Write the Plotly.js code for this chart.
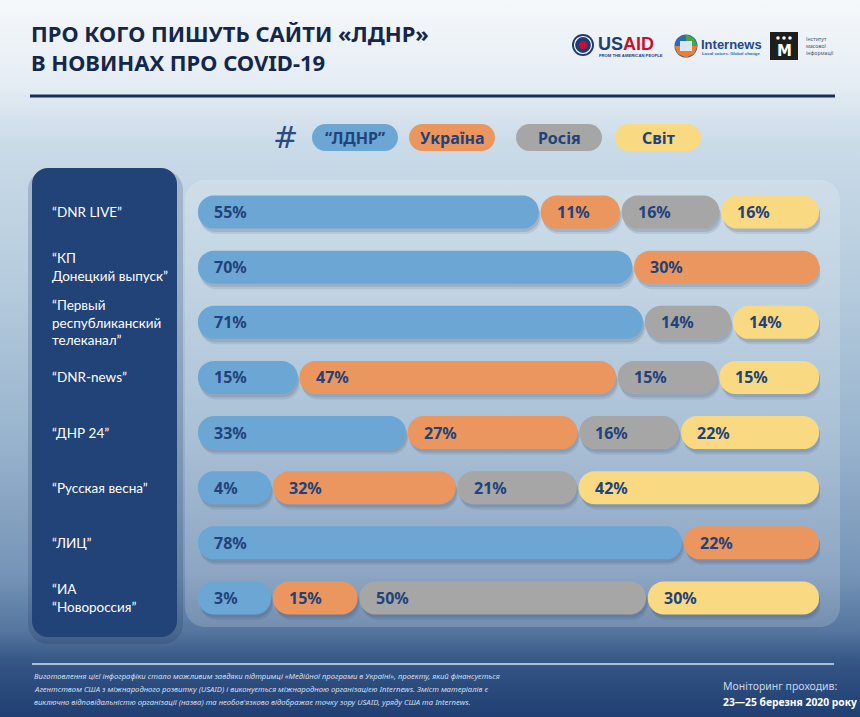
<!DOCTYPE html>
<html>
<head>
<meta charset="utf-8">
<script src="https://cdn.plot.ly/plotly-3.0.1.min.js"></script>
<style>
html,body{margin:0;padding:0;}
#wrap{width:860px;height:717px;background:linear-gradient(180deg,#f5f8fb 0%,#e4ecf3 12%,#cadbe8 20%,#b5cbdd 40%,#9ab5ce 60%,#7694b7 80%,#56769f 88%,#365885 92%,#2a4a7c 96%,#213f72 100%);}
#chart{width:860px;height:717px;}
</style>
</head>
<body>
<div id="wrap"><div id="chart"></div></div>
<script>
// ---- data ----
const sites = ["DNR LIVE","КП Донецкий выпуск","Первый республиканский телеканал","DNR-news","ДНР 24","Русская весна","ЛИЦ","ИА Новороссия"];
const siteLabels = ["“DNR LIVE”","“КП<br>Донецкий выпуск”","“Первый<br>республиканский<br>телеканал”","“DNR-news”","“ДНР 24”","“Русская весна”","“ЛИЦ”","“ИА<br>“Новороссия”"];
const ldnr    = [55,70,71,15,33, 4,78, 3];
const ukraine = [11,30, 0,47,27,32,22,15];
const russia  = [16, 0,14,15,16,21, 0,50];
const world   = [16, 0,14,15,22,42, 0,30];
const seriesNames = ["“ЛДНР”","Україна","Росія","Світ"];
const colors = ["#6ca6d4","#ea965e","#a6a6a6","#f9d982"];

const W = 860, H = 717;
const X = px => px / W, Y = py => 1 - py / H;
const series = [ldnr, ukraine, russia, world];
const navy = "#21427a";

// display widths: small shares get a minimum pill length so the label fits
const MINSHARE = 13;
const disp = series.map(s => s.map(v => v > 0 ? Math.max(v, MINSHARE) : 0));
const starts = series.map(() => []);
const widths = series.map(() => []);
sites.forEach((_, i) => {
  const tot = disp.reduce((a, s) => a + s[i], 0);
  let c = 0;
  disp.forEach((s, k) => {
    const w = s[i] / tot * 100;
    starts[k][i] = c; widths[k][i] = w; c += w;
  });
});

const GAP = 0.15;
const traces = [];
function pills(k, color, baseShift, offset, name) {
  traces.push({
    type: "bar", orientation: "h", y: sites,
    x: sites.map((_, i) => widths[k][i] > 0 ? widths[k][i] - 2 * GAP : 0),
    base: sites.map((_, i) => starts[k][i] + GAP + baseShift),
    width: 0.6, offset: offset,
    marker: {color: color, cornerradius: "50%", line: {width: 0}},
    hoverinfo: "skip", showlegend: false, name: name
  });
}
// soft shadows
series.forEach((s, k) => pills(k, "rgba(25,45,80,0.10)", 0.35, -0.3 + 0.10, "shadow"));
series.forEach((s, k) => pills(k, "rgba(25,45,80,0.12)", 0.2, -0.3 + 0.06, "shadow"));
// pills
series.forEach((s, k) => pills(k, colors[k], 0, -0.3, seriesNames[k]));

// ---- shapes ----
function rr(x0, y0, x1, y1, r) {
  const k = 0.5523 * r;
  const P = (x, y) => X(x).toFixed(5) + "," + Y(y).toFixed(5);
  return "M" + P(x0 + r, y0) + " L" + P(x1 - r, y0) +
    " C" + P(x1 - r + k, y0) + " " + P(x1, y0 + r - k) + " " + P(x1, y0 + r) +
    " L" + P(x1, y1 - r) +
    " C" + P(x1, y1 - r + k) + " " + P(x1 - r + k, y1) + " " + P(x1 - r, y1) +
    " L" + P(x0 + r, y1) +
    " C" + P(x0 + r - k, y1) + " " + P(x0, y1 - r + k) + " " + P(x0, y1 - r) +
    " L" + P(x0, y0 + r) +
    " C" + P(x0, y0 + r - k) + " " + P(x0 + r - k, y0) + " " + P(x0 + r, y0) + " Z";
}
const shapes = [];
const addPath = (path, fill, layer) => shapes.push({type: "path", xref: "paper", yref: "paper", path: path, fillcolor: fill, line: {width: 0}, layer: layer || "below"});
const addLine = (x0, y0, x1, y1, color, w) => shapes.push({type: "line", xref: "paper", yref: "paper", x0: X(x0), y0: Y(y0), x1: X(x1), y1: Y(y1), line: {color: color, width: w}, layer: "below"});
const addCircle = (cx, cy, r, fill, lc, lw) => shapes.push({type: "circle", xref: "paper", yref: "paper", x0: X(cx - r), x1: X(cx + r), y0: Y(cy + r), y1: Y(cy - r), fillcolor: fill, line: {color: lc || fill, width: lw || 0}, layer: "above"});

// top rule and footer rule
addLine(30, 96, 835, 96, "#1a2f58", 3);
addLine(32, 664, 834, 664, "#d6e1ee", 1.5);
// panels: shadows then panels
addPath(rr(28, 170, 183, 644, 20), "rgba(20,40,75,0.18)");
addPath(rr(185, 180, 840, 627, 20), "rgba(255,255,255,0.17)");
addPath(rr(32, 168, 177, 637, 16), "#214377");
// legend pills
const pillX = [[312, 398], [409, 495], [516, 602], [615, 701]];
pillX.forEach((p, k) => addPath(rr(p[0], 124, p[1], 151, 13.5), colors[k]));

// logos
addCircle(583, 45, 11, "#1f3c78");
addCircle(583, 45, 8.5, "rgba(0,0,0,0)", "#ffffff", 1.2);
addCircle(583, 45, 4, "#c8102e");
addCircle(686, 46, 11.5, "#2e6ab3");
addPath("M" + X(674.5) + "," + Y(46) + " L" + X(697.5) + "," + Y(46) + " L" + X(694) + "," + Y(54) + " L" + X(686) + "," + Y(57.5) + " L" + X(678) + "," + Y(54) + " Z", "#ef7d2d", "above");
addPath("M" + X(686) + "," + Y(34.5) + " L" + X(694) + "," + Y(38) + " L" + X(697.5) + "," + Y(46) + " L" + X(686) + "," + Y(46) + " Z", "#47a447", "above");
shapes.push({type: "rect", xref: "paper", yref: "paper", x0: X(680), x1: X(692), y0: Y(51), y1: Y(41), fillcolor: "#dce6f2", line: {width: 0}, layer: "above"});
shapes.push({type: "rect", xref: "paper", yref: "paper", x0: X(770), x1: X(798), y0: Y(60), y1: Y(32), fillcolor: "#1e1e1e", line: {width: 0}, layer: "above"});
// three dots of the IMI logo
[778, 784, 790].forEach(cx => addCircle(cx, 38, 1.8, "#ffffff"));

// ---- annotations ----
const ann = [];
const A = (o) => ann.push(Object.assign({xref: "paper", yref: "paper", showarrow: false}, o));
const titleFont = {family: "Noto Sans, sans-serif", size: 22, color: "#15264b", weight: 700};
A({x: X(29), y: Y(48), xanchor: "left", yanchor: "middle", align: "left", text: "ПРО КОГО ПИШУТЬ САЙТИ «ЛДНР»<br>В НОВИНАХ ПРО COVID-19", font: titleFont});
// logo texts
A({x: X(596), y: Y(44), xanchor: "left", yanchor: "middle", text: "<span style='color:#1f3c78'>US</span><span style='color:#c8102e'>AID</span>", font: {family: "Liberation Sans, Arial", size: 18, weight: 700}});
A({x: X(597), y: Y(55), xanchor: "left", yanchor: "middle", text: "FROM THE AMERICAN PEOPLE", font: {family: "Liberation Sans, Arial", size: 4.2, color: "#1f3c78", weight: 700}});
A({x: X(699), y: Y(44), xanchor: "left", yanchor: "middle", text: "Internews", font: {family: "Liberation Sans, Arial", size: 13, color: "#23498a", weight: 700}});
A({x: X(700), y: Y(53), xanchor: "left", yanchor: "middle", text: "Local voices. Global change", font: {family: "Liberation Sans, Arial", size: 4.3, color: "#2e6ab3", weight: 700}});
A({x: X(784), y: Y(51), xanchor: "center", yanchor: "middle", text: "M", font: {family: "DejaVu Sans", size: 15, color: "#ffffff", weight: 700}});
A({x: X(804), y: Y(46), xanchor: "left", yanchor: "middle", align: "left", text: "Інститут<br>масової<br>інформації", font: {family: "Noto Sans", size: 5.2, color: "#555555"}});

// legend
A({x: X(285), y: Y(137), xanchor: "center", yanchor: "middle", text: "#", font: {family: "DejaVu Sans, sans-serif", size: 30, color: "#2a4a80"}});
pillX.forEach((p, k) => A({x: X((p[0] + p[1]) / 2), y: Y(137.5), xanchor: "center", yanchor: "middle", text: seriesNames[k], font: {family: "Noto Sans, sans-serif", size: 16, color: navy, weight: 700}}));

// site labels in left panel
siteLabels.forEach((t, i) => ann.push({xref: "paper", yref: "y", x: X(50), y: sites[i], xanchor: "left", yanchor: "middle", align: "left", showarrow: false, text: t, font: {family: "Lato, sans-serif", size: 13.5, color: "#ffffff"}}));

// percentage labels
series.forEach((s, k) => s.forEach((v, i) => {
  if (v > 0) ann.push({xref: "x", yref: "y", x: starts[k][i], y: sites[i], xanchor: "left", yanchor: "middle", xshift: 15, yshift: 0, showarrow: false, text: v + "%", font: {family: "Noto Sans, sans-serif", size: 16, color: navy, weight: 700}});
}));

// footer
const footFont = {family: "Noto Sans, sans-serif", size: 7.7, color: "#d4deea", style: "italic"};
const footLines = [
  "Виготовлення цієї інфографіки стало можливим завдяки підтримці «Медійної програми в Україні», проекту, який фінансується",
  "Агентством США з міжнародного розвитку (USAID) і виконується міжнародною організацією Internews. Зміст матеріалів є",
  "виключно відповідальністю організації (назва) та необов'язково відображає точку зору USAID, уряду США та Internews."
];
footLines.forEach((t, j) => A({x: X(32), y: Y(676 + j * 13), xanchor: "left", yanchor: "middle", text: t, font: footFont}));
A({x: X(721), y: Y(686), xanchor: "left", yanchor: "middle", text: "Моніторинг проходив:", font: {family: "Noto Sans, sans-serif", size: 10.5, color: "#c9d6e6"}});
A({x: X(721), y: Y(702), xanchor: "left", yanchor: "middle", text: "23—25 березня 2020 року", font: {family: "Noto Sans, sans-serif", size: 10.3, color: "#ffffff", weight: 700}});

const layout = {
  width: W, height: H,
  margin: {l: 0, r: 0, t: 0, b: 0},
  paper_bgcolor: "rgba(0,0,0,0)", plot_bgcolor: "rgba(0,0,0,0)",
  barmode: "overlay", showlegend: false,
  xaxis: {domain: [X(197), X(820)], range: [0, 100], visible: false, fixedrange: true},
  yaxis: {domain: [Y(625.5), Y(184.5)], type: "category", categoryarray: sites, categoryorder: "array", range: [7.5, -0.5], visible: false, fixedrange: true},
  shapes: shapes, annotations: ann
};
Plotly.newPlot("chart", traces, layout, {displayModeBar: false, staticPlot: true});
</script>
</body>
</html>
